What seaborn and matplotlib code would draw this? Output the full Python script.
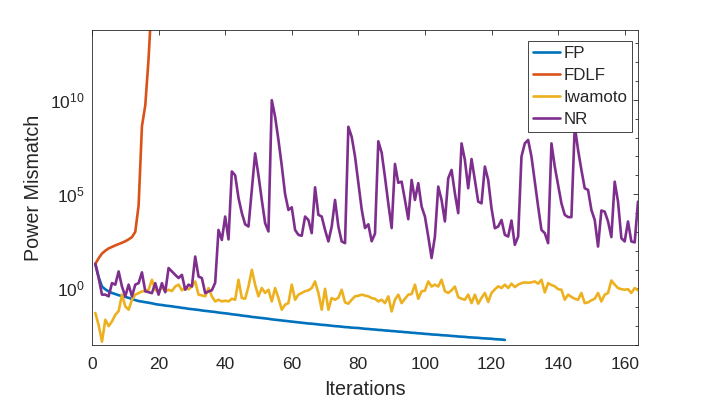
import numpy as np
import pandas as pd
import seaborn as sns
import matplotlib
matplotlib.use('Agg')
import matplotlib.pyplot as plt
from matplotlib.ticker import FixedLocator, NullFormatter

# log10 of the power mismatch
fp_log = [1.30, 0.60, 0.10, -0.05, -0.16, -0.24, -0.30, -0.36, -0.41, -0.45,
          -0.50, -0.56, -0.62, -0.67, -0.70, -0.73, -0.76, -0.79, -0.83, -0.86,
          -0.88, -0.91, -0.93, -0.95, -0.98, -1.00, -1.03, -1.05, -1.08, -1.10,
          -1.12, -1.14, -1.17, -1.19, -1.21, -1.23, -1.25, -1.28, -1.30, -1.32,
          -1.34, -1.37, -1.39, -1.41, -1.44, -1.46, -1.48, -1.51, -1.53, -1.55,
          -1.57, -1.59, -1.61, -1.64, -1.66, -1.68, -1.70, -1.72, -1.74, -1.76,
          -1.78, -1.80, -1.82, -1.84, -1.86, -1.87, -1.89, -1.91, -1.93, -1.94,
          -1.96, -1.98, -2.00, -2.01, -2.03, -2.05, -2.06, -2.08, -2.09, -2.10,
          -2.12, -2.14, -2.15, -2.17, -2.18, -2.20, -2.21, -2.23, -2.24, -2.26,
          -2.27, -2.29, -2.30, -2.32, -2.33, -2.35, -2.36, -2.38, -2.39, -2.41,
          -2.42, -2.44, -2.45, -2.46, -2.48, -2.49, -2.50, -2.52, -2.53, -2.55,
          -2.56, -2.57, -2.59, -2.60, -2.61, -2.62, -2.64, -2.65, -2.66, -2.67,
          -2.69, -2.70, -2.71, -2.73]

fdlf_log = [1.30, 1.60, 1.85, 2.00, 2.12, 2.20, 2.28, 2.35, 2.42, 2.50,
            2.60, 2.72, 3.00, 4.40, 8.60, 9.70, 12.2, 15.5, 19.0]

iwamoto_log = [-1.30, -1.95, -2.82, -1.66, -2.00, -1.75, -1.40, -1.20, -0.33, -0.95,
               -1.13, -0.60, -0.33, -0.25, -0.16, -0.14, -0.07, 0.46, -0.07, -0.21,
               0.10, -0.16, -0.07, -0.14, 0.10, 0.20, -0.10, 0.05, -0.05, 0.10,
               0.37, -0.33, -0.37, -0.42, 0.02, -0.42, -0.69, -0.60, -0.69, -0.65,
               -0.69, -0.55, -0.60, 0.46, -0.51, -0.55, 0.10, 0.99, 0.20, -0.42,
               0.02, -0.24, -0.07, -0.69, 0.02, -0.51, -1.13, -0.86, -0.78, 0.20,
               -0.60, -0.33, -0.24, -0.15, -0.10, 0.02, 0.37, -0.24, -1.13, -0.02,
               -1.13, -0.51, -0.60, -0.50, -0.07, -0.74, -0.81, -0.60, -0.42, -0.39,
               -0.33, -0.38, -0.42, -0.51, -0.55, -0.69, -0.60, -0.78, -0.42, -1.22,
               -0.60, -0.33, -0.78, -0.55, -0.33, -0.30, 0.20, -0.55, -0.15, -0.12,
               0.37, 0.10, 0.20, 0.10, 0.46, -0.15, -0.24, -0.10, 0.10, -0.46,
               -0.55, -0.60, -0.33, -0.78, -0.33, -0.81, -0.50, -0.24, -0.72, -0.24,
               -0.05, 0.11, 0.02, 0.20, 0.02, 0.25, 0.07, 0.20, 0.28, 0.32,
               0.30, 0.32, 0.37, 0.25, 0.46, -0.21, 0.28, 0.18, 0.11, -0.04,
               -0.07, -0.60, -0.33, -0.45, -0.55, -0.60, -0.24, -0.78, -0.74, -0.63,
               -0.55, -0.24, -0.69, -0.33, -0.24, 0.42, 0.20, 0.02, -0.04, -0.07,
               -0.04, -0.24, 0.02, -0.10]

nr_log = [1.30, 0.55, -0.33, -0.33, -0.42, 0.28, 0.20, 0.90, 0.10, -0.42,
          0.20, -0.42, 0.20, 0.28, 0.85, -0.15, -0.20, -0.25, 0.28, -0.33,
          0.28, -0.20, 1.08, 0.90, 0.72, 0.55, 0.72, -0.07, 0.20, 0.10,
          1.69, 0.63, 0.55, -0.25, -0.16, -0.10, 0.30, 3.10, 2.57, 3.81,
          2.60, 6.20, 6.00, 4.80, 4.00, 3.40, 3.28, 5.20, 7.16, 6.00,
          4.69, 3.46, 3.02, 9.98, 9.10, 7.87, 6.50, 5.00, 4.16, 4.30,
          3.10, 2.84, 2.79, 3.81, 3.63, 2.93, 5.36, 3.90, 3.81, 3.10,
          2.49, 3.28, 4.69, 3.28, 2.49, 2.40, 8.57, 8.04, 7.00, 5.60,
          4.20, 3.20, 3.40, 2.50, 2.90, 7.80, 7.20, 5.90, 4.50, 3.20,
          6.60, 5.60, 5.66, 4.69, 3.67, 5.75, 4.69, 5.58, 4.34, 3.81,
          2.75, 1.61, 2.75, 5.40, 4.69, 3.55, 5.84, 6.28, 5.04, 3.99,
          7.69, 6.81, 5.31, 6.86, 5.75, 4.60, 4.51, 6.46, 5.75, 4.25,
          3.19, 3.28, 3.63, 2.84, 2.75, 3.60, 2.31, 2.75, 6.99, 7.69,
          7.87, 6.99, 5.66, 4.34, 3.10, 2.93, 2.40, 7.69, 6.46, 5.49,
          4.51, 3.90, 3.78, 3.78, 8.60, 7.34, 6.28, 5.31, 5.22, 4.16,
          3.63, 2.22, 4.13, 4.07, 3.55, 2.72, 5.66, 4.60, 2.66, 2.49,
          3.55, 2.49, 2.44, 4.60]

methods = ['FP', 'FDLF', 'Iwamoto', 'NR']
colors = ['#0072BD', '#D95319', '#EDB120', '#7E2F8E']
series = [fp_log, fdlf_log, iwamoto_log, nr_log]

rows = []
for name, vals in zip(methods, series):
    for k, v in enumerate(vals):
        rows.append({'Iteration': k + 1, 'Mismatch': 10.0 ** v, 'Method': name})
df = pd.DataFrame(rows)

sns.set_style('white')
plt.rcParams['font.family'] = ['Liberation Sans', 'DejaVu Sans']
plt.rcParams['mathtext.default'] = 'regular'

fig = plt.figure(figsize=(7.06, 4.05), dpi=100)
ax = fig.add_axes([92 / 706, 1 - 345 / 405, 546 / 706, 315 / 405])

sns.lineplot(data=df, x='Iteration', y='Mismatch', hue='Method',
             hue_order=methods, palette=colors, linewidth=1.9,
             estimator=None, sort=False, ax=ax)

ax.set_yscale('log')
ax.set_xlim(0, 164)
ax.set_ylim(1e-3, 10 ** 13.7)
ax.set_xticks(range(0, 161, 20))
ax.yaxis.set_major_locator(FixedLocator([1e0, 1e5, 1e10]))
ax.yaxis.set_minor_locator(FixedLocator([10.0 ** k for k in range(-3, 14)]))
ax.yaxis.set_minor_formatter(NullFormatter())
ax.set_yticklabels(['$10^{0}$', '$10^{5}$', '$10^{10}$'])

dark = '#262626'
for s in ax.spines.values():
    s.set_color(dark)
    s.set_linewidth(0.6)
    s.set_visible(True)
ax.tick_params(which='both', direction='in', top=True, right=True,
               colors=dark, labelsize=12.5, width=0.6)
ax.tick_params(which='major', length=3.3)
ax.tick_params(which='minor', length=2.0)
ax.tick_params(axis='x', pad=8.5)
ax.tick_params(axis='y', pad=5)

ax.set_xlabel('Iterations', fontsize=14.2, color=dark, labelpad=6)
ax.set_ylabel('Power Mismatch', fontsize=14.2, color=dark, labelpad=5.5)

leg = ax.legend(loc='upper right', bbox_to_anchor=(0.9896, 0.966),
                borderaxespad=0, fancybox=False, framealpha=1,
                edgecolor=dark, fontsize=12.2, handlelength=1.6,
                handletextpad=0.2, labelspacing=0.42, borderpad=0.3)
leg.get_frame().set_linewidth(0.6)
for h in leg.get_lines():
    h.set_linewidth(1.9)

fig.savefig('out.png', dpi=100)
